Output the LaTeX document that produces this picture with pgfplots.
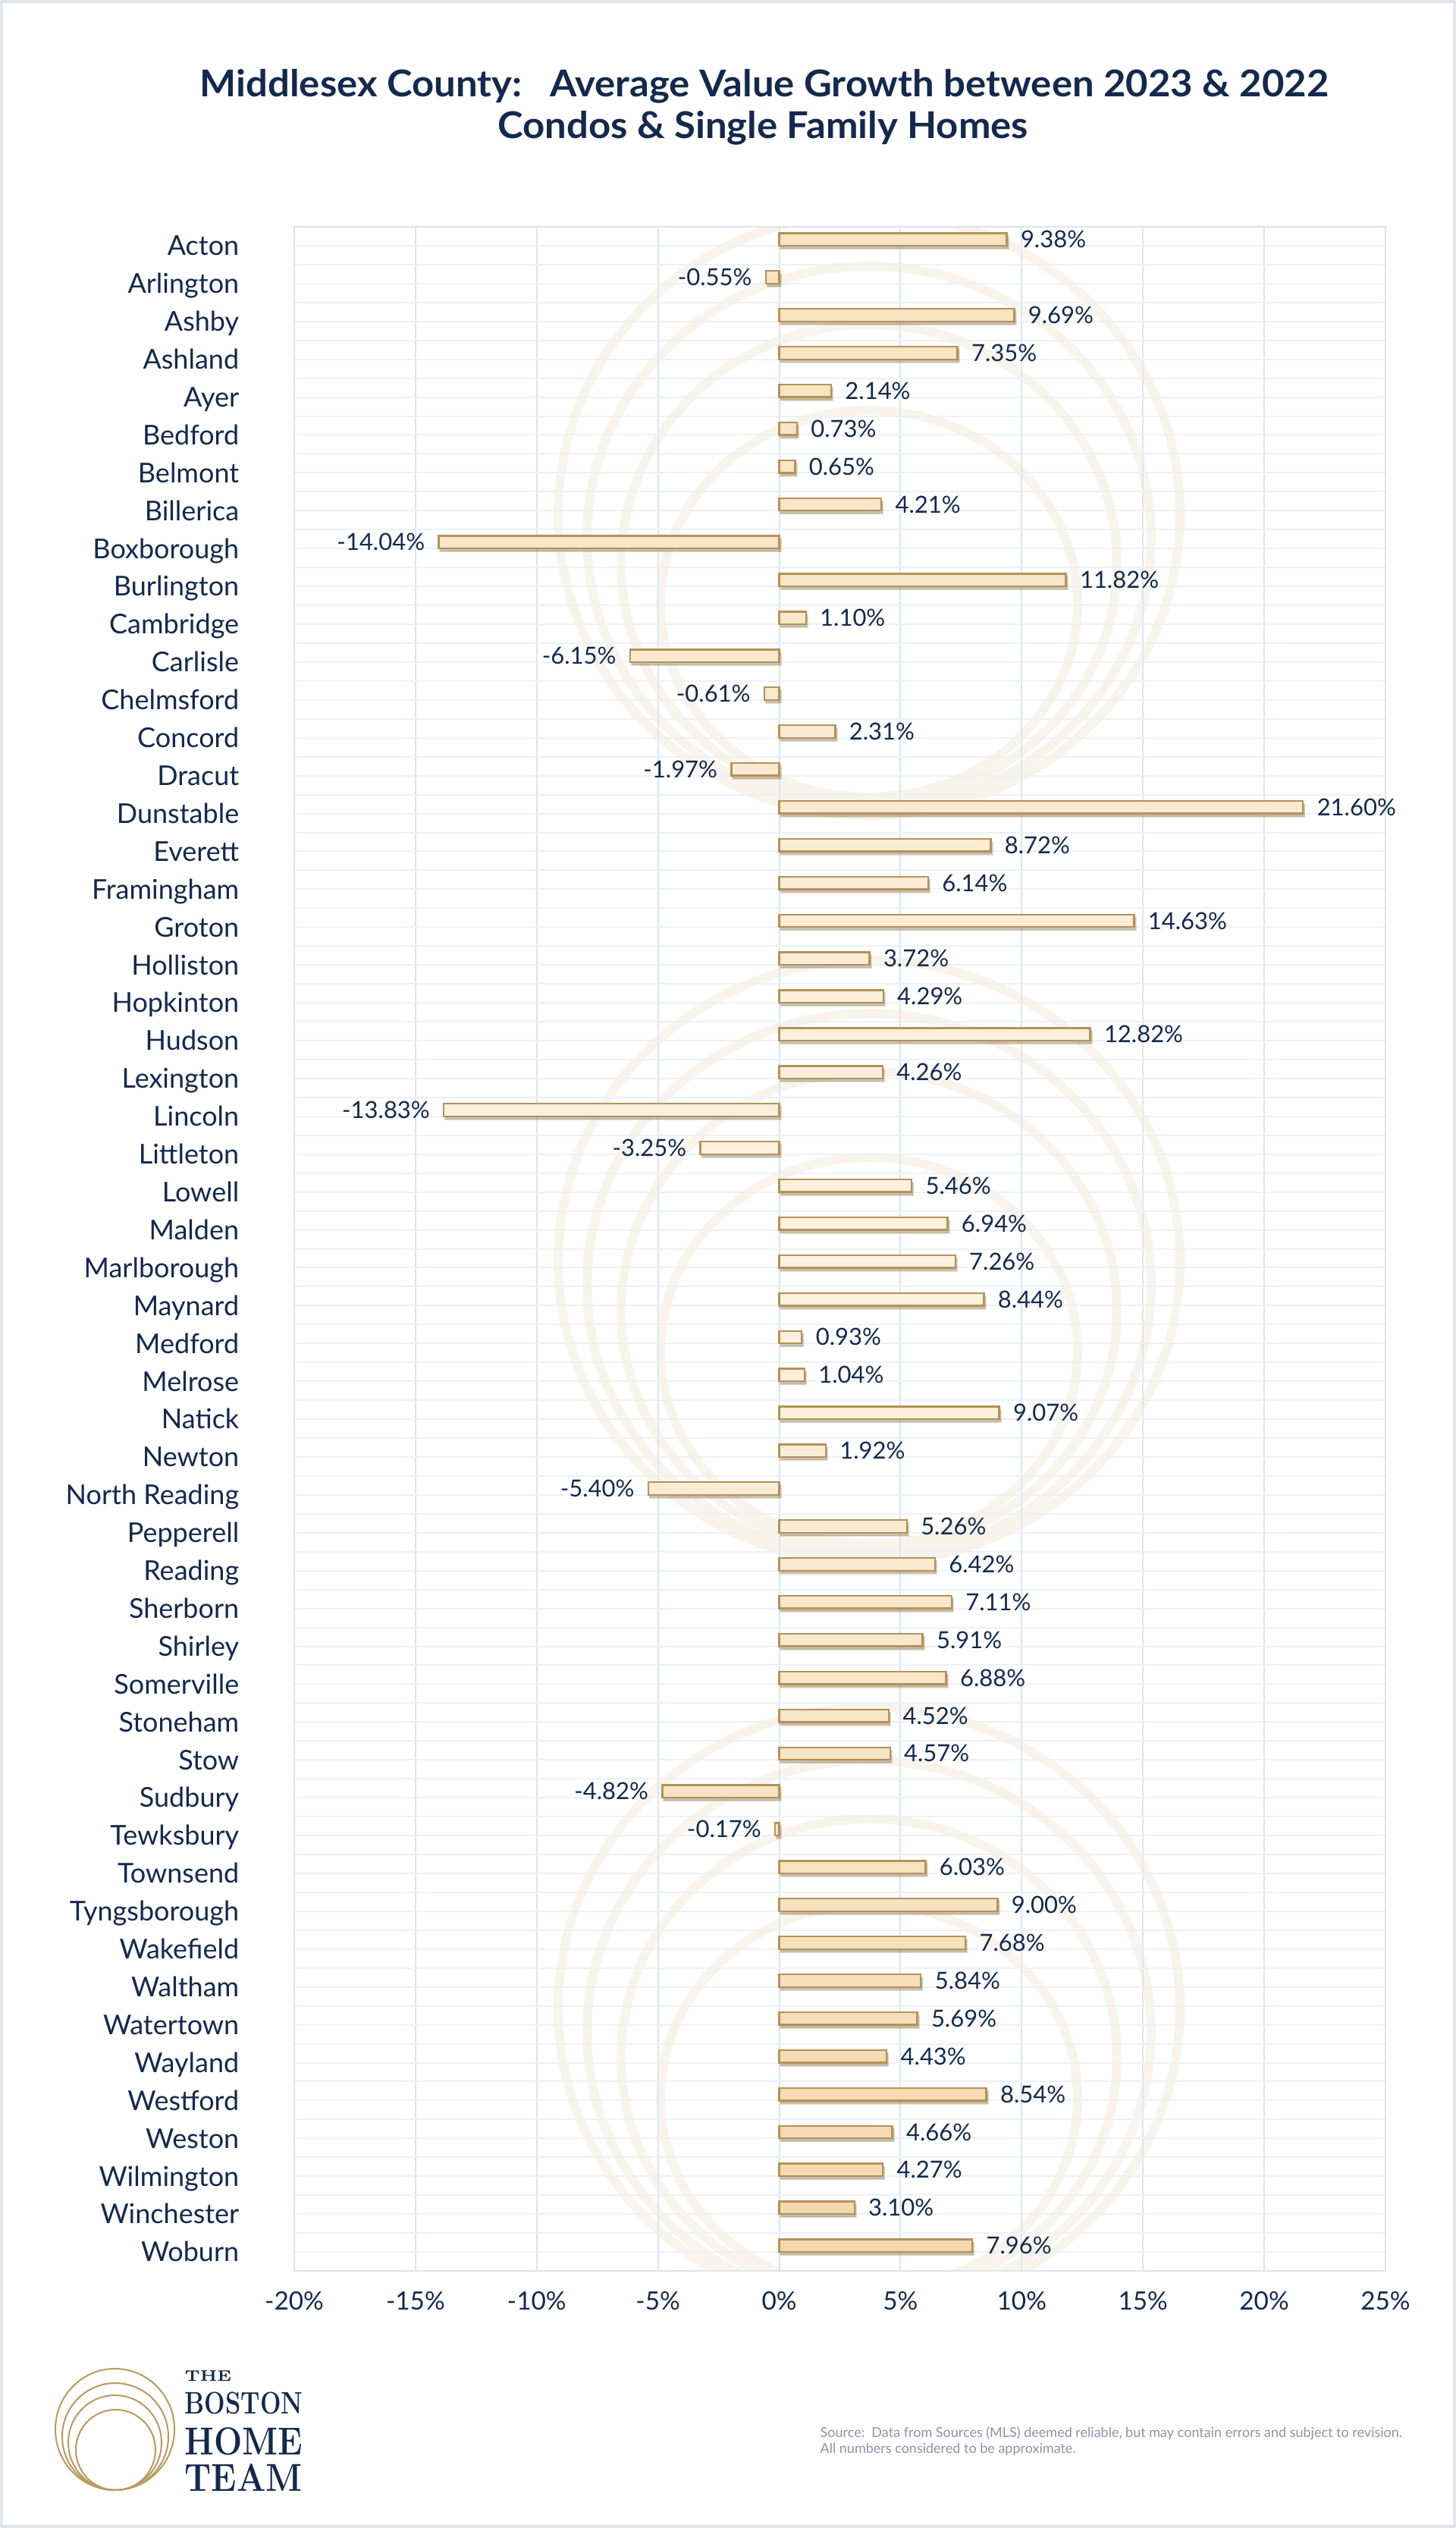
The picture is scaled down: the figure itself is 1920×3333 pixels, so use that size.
\documentclass[border=0pt]{standalone}
\usepackage{fontspec}
\usepackage{pgfplots}
\pgfplotsset{compat=1.18}
\usepackage{pgfplotstable}
\usetikzlibrary{shadows}
\newfontfamily\lato{Lato}

\definecolor{navy}{HTML}{14294C}
\definecolor{gridc}{HTML}{DEE3EE}
\definecolor{gridh}{HTML}{EDF0F5}
\definecolor{barline}{HTML}{B3925A}
\definecolor{bartop}{HTML}{F7E1BE}
\definecolor{barmid}{HTML}{FDF1E0}
\definecolor{barbot}{HTML}{F4D8AC}
\definecolor{wmark}{HTML}{F8F4EC}
\definecolor{gold}{HTML}{B89A62}
\definecolor{srcgray}{HTML}{8A94AA}
\definecolor{framec}{HTML}{E1E5EE}

% growth 2023 vs 2022, in %
\pgfplotstableread{
idx val
0 9.38
1 -0.55
2 9.69
3 7.35
4 2.14
5 0.73
6 0.65
7 4.21
8 -14.04
9 11.82
10 1.10
11 -6.15
12 -0.61
13 2.31
14 -1.97
15 21.60
16 8.72
17 6.14
18 14.63
19 3.72
20 4.29
21 12.82
22 4.26
23 -13.83
24 -3.25
25 5.46
26 6.94
27 7.26
28 8.44
29 0.93
30 1.04
31 9.07
32 1.92
33 -5.40
34 5.26
35 6.42
36 7.11
37 5.91
38 6.88
39 4.52
40 4.57
41 -4.82
42 -0.17
43 6.03
44 9.00
45 7.68
46 5.84
47 5.69
48 4.43
49 8.54
50 4.66
51 4.27
52 3.10
53 7.96
}\growth

\begin{document}
\begin{tikzpicture}
% page in reference pixels: 1 px = 0.3pt, origin top left
\begin{scope}[x=0.3pt,y=-0.3pt,yshift=999.9pt]
  \fill[white] (0,0) rectangle (1920,3333);
  \draw[framec, line width=1.2pt] (2,2) rectangle (1918,3331);
  % watermark rings
  \begin{scope}
    \clip (388,299) rectangle (1827,2994);
    \foreach \dy in {-985,0,985} {
      \draw[wmark, line width=3.6pt] (1146,1663+\dy) ellipse [x radius=410, y radius=397];
      \draw[wmark, line width=3.6pt] (1146,1694+\dy) ellipse [x radius=372, y radius=358];
      \draw[wmark, line width=3.6pt] (1146,1728+\dy) ellipse [x radius=327, y radius=315];
      \draw[wmark, line width=3.6pt] (1146,1781+\dy) ellipse [x radius=275, y radius=255];
    }
  \end{scope}
  % title
  \node[anchor=base, inner sep=0pt, text=navy, xscale=1.045, font=\lato\bfseries\fontsize{14.6}{16}\selectfont]
    at (1008,128) {Middlesex County:\ \ \ Average Value Growth between 2023 \& 2022};
  \node[anchor=base, inner sep=0pt, text=navy, xscale=1.045, font=\lato\bfseries\fontsize{14.6}{16}\selectfont]
    at (1006,183) {Condos \& Single Family Homes};
  % logo
  \draw[gold, line width=0.6pt] (151.5,3203) ellipse [x radius=78.5, y radius=80];
  \draw[gold, line width=0.6pt] (152,3212.5) ellipse [x radius=70, y radius=70.5];
  \draw[gold, line width=0.6pt] (151.5,3220.5) ellipse [x radius=61.5, y radius=62.5];
  \draw[gold, line width=0.6pt] (152.5,3230) ellipse [x radius=52.5, y radius=53];
  \node[anchor=base west, inner sep=0pt, text=navy, font=\rmfamily\bfseries\fontsize{6.1}{7}\selectfont, xscale=1.04] at (243,3140) {THE};
  \node[anchor=base west, inner sep=0pt, text=navy, font=\rmfamily\bfseries\fontsize{12.3}{13}\selectfont, xscale=0.795] at (243,3183) {BOSTON};
  \node[anchor=base west, inner sep=0pt, text=navy, font=\rmfamily\bfseries\fontsize{15.4}{16}\selectfont, xscale=0.86] at (243,3237) {HOME};
  \node[anchor=base west, inner sep=0pt, text=navy, font=\rmfamily\bfseries\fontsize{15.4}{16}\selectfont, xscale=0.88] at (243,3285) {TEAM};
  % source note
  \node[anchor=base west, inner sep=0pt, text=srcgray, font=\lato\fontsize{5.4}{6}\selectfont] at (1081,3214)
    {Source:\ \ Data from Sources (MLS) deemed reliable, but may contain errors and subject to revision.};
  \node[anchor=base west, inner sep=0pt, text=srcgray, font=\lato\fontsize{5.4}{6}\selectfont] at (1081,3235)
    {All numbers considered to be approximate.};
\end{scope}

\begin{axis}[
  at={(116.4pt,101.7pt)}, anchor=south west,
  scale only axis, width=431.7pt, height=808.5pt,
  xmin=-20, xmax=25, ymin=-0.5, ymax=53.5,
  y dir=reverse,
  xbar, bar width=0.332, bar shift=-0.166,
  xtick={-20,-15,...,25},
  xticklabels={-20\%,-15\%,-10\%,-5\%,0\%,5\%,10\%,15\%,20\%,25\%},
  ytick={0,...,53},
  minor ytick={-0.5,0.5,...,53.5},
  yticklabels={Acton,Arlington,Ashby,Ashland,Ayer,Bedford,Belmont,Billerica,Boxborough,Burlington,
    Cambridge,Carlisle,Chelmsford,Concord,Dracut,Dunstable,Everett,Framingham,Groton,Holliston,
    Hopkinton,Hudson,Lexington,Lincoln,Littleton,Lowell,Malden,Marlborough,Maynard,Medford,
    Melrose,Natick,Newton,North Reading,Pepperell,Reading,Sherborn,Shirley,Somerville,Stoneham,
    Stow,Sudbury,Tewksbury,Townsend,Tyngsborough,Wakefield,Waltham,Watertown,Wayland,Westford,
    Weston,Wilmington,Winchester,Woburn},
  xmajorgrids, ymajorgrids, yminorgrids,
  x grid style={gridc, line width=0.6pt},
  y grid style={gridh, line width=0.6pt},
  axis line style={gridc, line width=0.6pt},
  major tick length=0pt, minor tick length=0pt,
  yticklabel style={font=\lato\fontsize{10.8}{12}\selectfont, text=navy, text height=7.7pt, text depth=0pt},
  xticklabel style={font=\lato\fontsize{10}{11}\selectfont, text=navy, text height=7.1pt, text depth=0pt},
  yticklabel shift=18.3pt, xticklabel shift=4.8pt,
  point meta=x,
  nodes near coords={\pgfmathprintnumber[fixed,fixed zerofill,precision=2,assume math mode=true]{\pgfplotspointmeta}\%},
  nodes near coords style={font=\lato\fontsize{9.3}{10}\selectfont, text=navy, inner xsep=5.2pt, text height=6.6pt, text depth=0pt},
]
\addplot[draw=barline, line width=0.7pt, top color=bartop, bottom color=barbot, middle color=barmid,
  drop shadow={shadow xshift=0.6pt, shadow yshift=-1.2pt, fill=black, opacity=0.3}]
  table[x=val, y=idx]{\growth};
\end{axis}
\end{tikzpicture}
\end{document}
